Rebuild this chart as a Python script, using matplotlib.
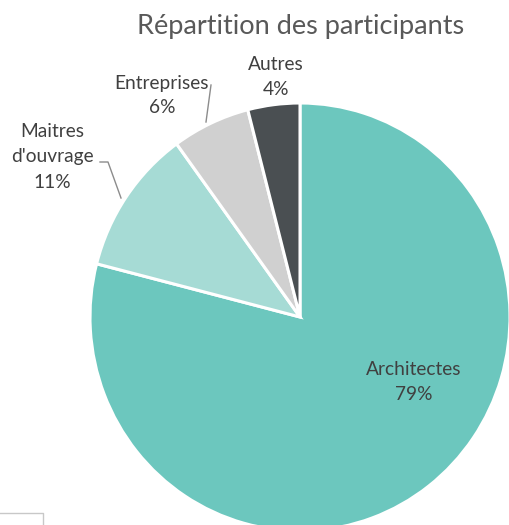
import matplotlib
matplotlib.use("Agg")
import matplotlib.pyplot as plt
from matplotlib.lines import Line2D

categories = ["Architectes", "Maitres\nd'ouvrage", "Entreprises", "Autres"]
values = [79, 11, 6, 4]
pct_labels = ["79%", "11%", "6%", "4%"]
colors = ["#6cc7be", "#a6dbd5", "#d0d0d0", "#4a4f52"]
title = "Répartition des participants"

W, H = 509, 525
fig = plt.figure(figsize=(W / 100, H / 100), dpi=100)
fig.patch.set_facecolor("white")
plt.rcParams['font.family'] = ['Lato', 'DejaVu Sans']

# pie geometry in pixels
cx, cy, rx, ry = 300, 317, 210, 214
ax = fig.add_axes([0, 0, 1, 1])
ax.pie(values, colors=colors, startangle=90, counterclock=False,
       radius=1, center=(0, 0),
       wedgeprops=dict(edgecolor="white", linewidth=2.2))
ax.set_aspect("auto")
ax.set_xlim(-cx / rx, (W - cx) / rx)
ax.set_ylim(-(H - cy) / ry, cy / ry)
ax.axis("off")


def px(x, y):
    return x / W, 1 - y / H


txt_col = "#404040"
fs = 13.8

fig.text(*px(301, 34), title, ha="center", va="baseline",
         fontsize=19.5, color="#595959")

# label positions (pixel baselines)
label_pos = {
    "Architectes": [(414, 375), (414, 400)],
    "Maitres\nd'ouvrage": [(52, 137), (52, 162), (52, 188)],
    "Entreprises": [(162, 89), (162, 113)],
    "Autres": [(276, 70), (276, 95)],
}
for cat, pct in zip(categories, pct_labels):
    lines = cat.split("\n") + [pct]
    for (x, y), s in zip(label_pos[cat], lines):
        fig.text(*px(x, y), s, ha="center", va="baseline",
                 fontsize=fs, color=txt_col)

lc = "#8c8c8c"
# leader lines
for xs, ys in [([211, 206], [85, 122]),
               ([100, 108, 121], [162, 162, 198])]:
    pts = [px(x, y) for x, y in zip(xs, ys)]
    fig.add_artist(Line2D([p[0] for p in pts], [p[1] for p in pts],
                          transform=fig.transFigure, color=lc, lw=1))

# small frame artifact bottom-left
pts = [px(0, 513), px(43, 513), px(43, 525)]
fig.add_artist(Line2D([p[0] for p in pts], [p[1] for p in pts],
                      transform=fig.transFigure, color="#c8c8c8", lw=1))

fig.savefig("out.png", dpi=100, facecolor="white")
